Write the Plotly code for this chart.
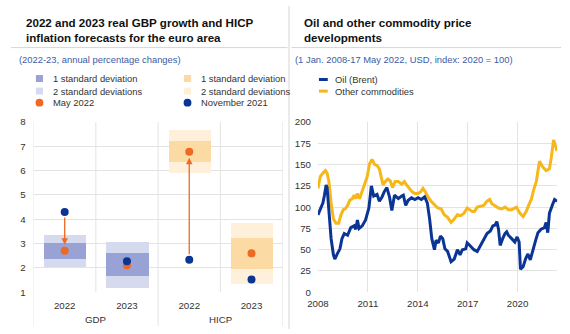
import plotly.graph_objects as go
import pandas as pd

# ---------------- data: left panel ----------------
categories = ["2022", "2023", "2022", "2023"]
groups = ["GDP", "HICP"]
sd2_low = [2.02, 1.19, 5.91, 1.35]
sd2_high = [3.36, 3.08, 7.67, 3.86]
sd1_low = [2.38, 1.65, 6.34, 1.95]
sd1_high = [3.01, 2.62, 7.23, 3.21]
may_2022 = [2.71, 2.11, 6.78, 2.60]
nov_2021 = [4.30, 2.27, 2.34, 1.52]
arrow_idx = [0, 2]

# ---------------- data: right panel ----------------
oil_t = [2008.00, 2008.20, 2008.30, 2008.39, 2008.49, 2008.55, 2008.65, 2008.79, 2008.93, 2009.01,
         2009.18, 2009.32, 2009.44, 2009.58, 2009.78, 2009.97, 2010.17, 2010.27, 2010.37, 2010.47,
         2010.66, 2010.86, 2011.06, 2011.21, 2011.35, 2011.55, 2011.69, 2011.85, 2011.98, 2012.14,
         2012.30, 2012.44, 2012.60, 2012.83, 2013.03, 2013.13, 2013.27, 2013.42, 2013.62, 2013.82,
         2014.02, 2014.21, 2014.41, 2014.57, 2014.71, 2014.84, 2015.00, 2015.10, 2015.24, 2015.36,
         2015.50, 2015.63, 2015.79, 2016.00, 2016.19, 2016.38, 2016.54, 2016.68, 2016.88, 2016.97,
         2017.13, 2017.37, 2017.57, 2017.76, 2017.96, 2018.16, 2018.36, 2018.51, 2018.65, 2018.75,
         2018.85, 2018.95, 2019.10, 2019.24, 2019.34, 2019.44, 2019.64, 2019.83, 2019.97, 2020.09,
         2020.17, 2020.33, 2020.49, 2020.62, 2020.76, 2020.92, 2021.08, 2021.22, 2021.41, 2021.61,
         2021.71, 2021.81, 2021.91, 2022.10, 2022.22, 2022.37]
oil_v = [91, 101, 105, 114, 126, 123, 97, 63, 44, 39,
         46, 51, 63, 69, 67, 76, 78, 74, 85, 75,
         78, 85, 99, 125, 113, 115, 107, 112, 118, 123,
         112, 96, 114, 110, 113, 114, 102, 108, 111, 109,
         111, 109, 112, 105, 86, 63, 50, 61, 58, 66,
         63, 51, 48, 36, 39, 50, 44, 50, 51, 58,
         55, 50, 48, 55, 63, 69, 72, 78, 79, 83,
         74, 55, 63, 69, 71, 67, 63, 59, 65, 59,
         27, 30, 40, 45, 38, 51, 61, 70, 74, 76,
         82, 70, 93, 103, 109, 107]

com_t = [2008.00, 2008.14, 2008.30, 2008.45, 2008.55, 2008.65, 2008.79, 2008.93, 2009.08, 2009.24,
         2009.38, 2009.52, 2009.64, 2009.78, 2009.91, 2010.07, 2010.17, 2010.27, 2010.37, 2010.50,
         2010.66, 2010.82, 2010.96, 2011.10, 2011.25, 2011.41, 2011.55, 2011.69, 2011.81, 2011.91,
         2012.04, 2012.20, 2012.34, 2012.48, 2012.64, 2012.83, 2013.03, 2013.19, 2013.33, 2013.52,
         2013.66, 2013.82, 2014.02, 2014.17, 2014.31, 2014.45, 2014.61, 2014.80, 2015.00, 2015.20,
         2015.40, 2015.59, 2015.79, 2016.00, 2016.19, 2016.38, 2016.58, 2016.78, 2016.97, 2017.13,
         2017.27, 2017.41, 2017.57, 2017.76, 2017.96, 2018.16, 2018.32, 2018.45, 2018.65, 2018.85,
         2019.05, 2019.24, 2019.44, 2019.64, 2019.93, 2020.13, 2020.33, 2020.52, 2020.68, 2020.82,
         2020.96, 2021.12, 2021.31, 2021.51, 2021.71, 2021.91, 2022.02, 2022.16, 2022.37]
com_v = [122, 136, 140, 143, 140, 131, 105, 86, 81, 81,
         91, 97, 98, 102, 108, 110, 114, 110, 116, 110,
         119, 128, 136, 151, 156, 150, 149, 145, 134, 126,
         130, 133, 131, 123, 130, 130, 127, 130, 126, 122,
         118, 116, 116, 118, 122, 118, 112, 107, 103, 99,
         98, 91, 88, 82, 86, 91, 90, 93, 99, 97,
         95, 95, 100, 101, 102, 107, 109, 104, 101, 99,
         98, 100, 97, 97, 100, 93, 89, 95, 103, 109,
         120, 130, 154, 147, 143, 145, 158, 179, 166]

x_ticks = [2008, 2011, 2014, 2017, 2020]


def to_date(t):
    y = int(t)
    return pd.Timestamp(year=y, month=1, day=1) + pd.Timedelta(days=(t - y) * 365.25)


oil_dates = [to_date(t) for t in oil_t]
com_dates = [to_date(t) for t in com_t]

# ---------------- style ----------------
W, H = 570, 334
FONT = "Arial, Liberation Sans, sans-serif"
TXT = "#333333"
SUB = "#3b5ba5"
GRID = "#e3e3e3"
SEP = "#d6d6d6"
C1_GDP, C2_GDP = "#98a2d4", "#d6daee"
C1_HICP, C2_HICP = "#fcdaa4", "#fef0da"
C_MAY, C_NOV = "#ee6a22", "#0b3595"
C_OIL, C_COM = "#0b3595", "#f6b71a"
SMALL = 9.4


def fx(p):
    return p / W


def fy(p):
    return 1 - p / H


Y_TOP, Y_BOT = fy(120), fy(296)
xs = list(range(len(categories)))

fig = go.Figure()

fig.add_trace(go.Bar(
    x=xs, y=[h - l for h, l in zip(sd2_high, sd2_low)], base=sd2_low, width=0.68,
    marker=dict(color=[C2_GDP, C2_GDP, C2_HICP, C2_HICP], line_width=0),
    showlegend=False, hoverinfo="skip", xaxis="x", yaxis="y"))
fig.add_trace(go.Bar(
    x=xs, y=[h - l for h, l in zip(sd1_high, sd1_low)], base=sd1_low, width=0.68,
    marker=dict(color=[C1_GDP, C1_GDP, C1_HICP, C1_HICP], line_width=0),
    showlegend=False, hoverinfo="skip", xaxis="x", yaxis="y"))
fig.add_trace(go.Scatter(
    x=xs, y=may_2022, mode="markers", marker=dict(color=C_MAY, size=8),
    showlegend=False, hoverinfo="skip", xaxis="x", yaxis="y"))
fig.add_trace(go.Scatter(
    x=xs, y=nov_2021, mode="markers", marker=dict(color=C_NOV, size=8),
    showlegend=False, hoverinfo="skip", xaxis="x", yaxis="y"))

fig.add_trace(go.Scatter(
    x=com_dates, y=com_v, mode="lines", line=dict(color=C_COM, width=3),
    showlegend=False, hoverinfo="skip", xaxis="x2", yaxis="y2"))
fig.add_trace(go.Scatter(
    x=oil_dates, y=oil_v, mode="lines", line=dict(color=C_OIL, width=3),
    showlegend=False, hoverinfo="skip", xaxis="x2", yaxis="y2"))

annotations = []
shapes = []

# arrows from November 2021 to May 2022
for i in arrow_idx:
    annotations.append(dict(
        x=xs[i], y=may_2022[i], ax=xs[i], ay=nov_2021[i], xref="x", yref="y",
        axref="x", ayref="y", showarrow=True, arrowhead=2, arrowsize=1,
        arrowwidth=1.3, arrowcolor=C_MAY, standoff=6, startstandoff=4, text=""))

# titles (one annotation per line for tight line spacing)
title_font = dict(family=FONT, size=11.6, color="#111111")
titles = [
    (13, 17, "2022 and 2023 real GBP growth and HICP"),
    (13, 32.5, "inflation forecasts for the euro area"),
    (297, 17, "Oil and other commodity price"),
    (297, 32.5, "developments"),
]
for tx, ty, txt in titles:
    annotations.append(dict(
        x=fx(tx), y=fy(ty), xref="paper", yref="paper", xanchor="left", yanchor="middle",
        showarrow=False, font=title_font, text="<b>" + txt + "</b>"))

sub_font = dict(family=FONT, size=SMALL, color=SUB)
annotations.append(dict(x=fx(6), y=fy(55), xref="paper", yref="paper", xanchor="left",
                        yanchor="middle", showarrow=False, font=sub_font,
                        text="(2022-23, annual percentage changes)"))
annotations.append(dict(x=fx(288), y=fy(55), xref="paper", yref="paper", xanchor="left",
                        yanchor="middle", showarrow=False, font=sub_font,
                        text="(1 Jan. 2008-17 May 2022, USD, index: 2020 = 100)"))

# left legend
leg_font = dict(family=FONT, size=SMALL, color=TXT)
leg_items = [
    (29, 75, "sq", C1_GDP, "1 standard deviation"),
    (29, 88, "sq", C2_GDP, "2 standard deviations"),
    (29, 100, "ci", C_MAY, "May 2022"),
    (180, 75, "sq", C1_HICP, "1 standard deviation"),
    (180, 88, "sq", C2_HICP, "2 standard deviations"),
    (180, 100, "ci", C_NOV, "November 2021"),
]
for cx, cy, kind, col, label in leg_items:
    r = 3.6 if kind == "sq" else 4
    shapes.append(dict(type="rect" if kind == "sq" else "circle", xref="paper", yref="paper",
                       x0=fx(cx - r), x1=fx(cx + r), y0=fy(cy + r), y1=fy(cy - r),
                       fillcolor=col, line_width=0))
    annotations.append(dict(x=fx(cx + 12), y=fy(cy), xref="paper", yref="paper",
                            xanchor="left", yanchor="middle", showarrow=False,
                            font=leg_font, text=label))

# right legend
for cy, col, label in [(76, C_OIL, "Oil (Brent)"), (88, C_COM, "Other commodities")]:
    shapes.append(dict(type="line", xref="paper", yref="paper", x0=fx(314), x1=fx(323),
                       y0=fy(cy), y1=fy(cy), line=dict(color=col, width=3)))
    annotations.append(dict(x=fx(328), y=fy(cy), xref="paper", yref="paper",
                            xanchor="left", yanchor="middle", showarrow=False,
                            font=leg_font, text=label))

# group labels
for gi, g in enumerate(groups):
    annotations.append(dict(x=gi * 2 + 0.5, y=fy(324), xref="x", yref="paper",
                            xanchor="center", yanchor="middle", showarrow=False,
                            font=dict(family=FONT, size=SMALL + 0.3, color=TXT), text=g))

# separators
shapes.append(dict(type="line", xref="paper", yref="paper", x0=0, x1=fx(282),
                   y0=fy(43), y1=fy(43), line=dict(color=SEP, width=1)))
shapes.append(dict(type="line", xref="paper", yref="paper", x0=fx(286), x1=fx(561),
                   y0=fy(43), y1=fy(43), line=dict(color=SEP, width=1)))
shapes.append(dict(type="line", xref="paper", yref="paper", x0=fx(283.5), x1=fx(283.5),
                   y0=0, y1=1, line=dict(color=SEP, width=1)))

# left panel vertical grid lines
for xv in [-0.5, 1.5, 3.5]:
    shapes.append(dict(type="line", xref="x", yref="paper", x0=xv, x1=xv,
                       y0=fy(331), y1=Y_TOP, line=dict(color=GRID, width=1), layer="below"))
for xv in [0.5, 2.5]:
    shapes.append(dict(type="line", xref="x", yref="paper", x0=xv, x1=xv,
                       y0=Y_BOT, y1=Y_TOP, line=dict(color=GRID, width=1), layer="below"))

tick_font = dict(family=FONT, size=SMALL + 0.3, color=TXT)
fig.update_layout(
    width=W, height=H, margin=dict(l=0, r=0, t=0, b=0),
    paper_bgcolor="white", plot_bgcolor="white",
    barmode="overlay", bargap=0, hovermode=False,
    font=dict(family=FONT, color=TXT),
    xaxis=dict(domain=[fx(23), fx(277)], range=[-0.5, 3.5], tickvals=xs,
               ticktext=categories, showgrid=False, zeroline=False, showline=False,
               ticks="", tickfont=tick_font, ticklabelstandoff=6, anchor="y", fixedrange=True),
    yaxis=dict(domain=[Y_BOT, Y_TOP], range=[1, 8], dtick=1, tick0=1, gridcolor=GRID,
               gridwidth=1, zeroline=False, showline=False, ticks="", tickfont=tick_font,
               ticklabelstandoff=7, anchor="x", fixedrange=True),
    xaxis2=dict(domain=[fx(313), fx(557)], type="date",
                range=[to_date(2008.0), to_date(2022.38)],
                tickvals=[to_date(t) for t in x_ticks], ticktext=[str(t) for t in x_ticks],
                showgrid=True, gridcolor=GRID, zeroline=False, showline=False, ticks="",
                tickfont=tick_font, ticklabelstandoff=4, anchor="y2", fixedrange=True),
    yaxis2=dict(domain=[Y_BOT, Y_TOP], range=[0, 200], dtick=25, gridcolor=GRID,
                zeroline=False, showline=False, ticks="", tickfont=tick_font,
                ticklabelstandoff=6, anchor="x2", fixedrange=True),
    annotations=annotations, shapes=shapes,
)

fig.write_html("out.html", config={"displayModeBar": False})
